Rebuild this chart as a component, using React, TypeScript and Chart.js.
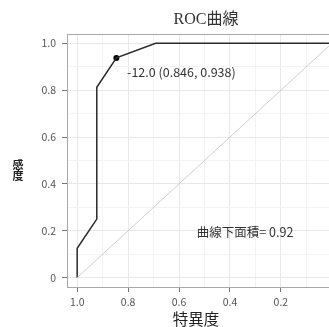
import React, { useEffect, useRef } from "react";
import { Chart, registerables } from "chart.js";

Chart.register(...registerables);

// ---- data ----
const SPECIFICITY = [1.0, 1.0, 0.923, 0.923, 0.846, 0.692, 0.0];
const SENSITIVITY = [0.0, 0.125, 0.25, 0.8125, 0.938, 1.0, 1.0];
const DIAG_X = [1.0, 0.0];
const DIAG_Y = [0.0, 1.0];
const BEST_X = [0.846];
const BEST_Y = [0.938];
const BEST_LABEL = "-12.0 (0.846, 0.938)";
const BEST_LABEL_POS = [0.804, 0.876];
const AUC_LABEL = "曲線下面積= 0.92";
const AUC_LABEL_POS = [0.53, 0.195];
const TITLE = "ROC曲線";
const X_TITLE = "特異度";
const Y_TITLE = ["感", "度"];
const TICK_VALUES = [1.0, 0.9, 0.8, 0.7, 0.6, 0.5, 0.4, 0.3, 0.2, 0.1, 0.0];
const TICK_LABELS = ["1.0", "", "0.8", "", "0.6", "", "0.4", "", "0.2", "", "0"];

const FONT = '"Noto Sans CJK JP", "Noto Sans", sans-serif';

const labelFor = (v: number) => {
  const i = TICK_VALUES.findIndex((t) => Math.abs(t - v) < 1e-6);
  return i >= 0 ? TICK_LABELS[i] : "";
};
const isMajor = (v: number) => labelFor(v) !== "";

const textPlugin = {
  id: "textPlugin",
  beforeDatasetsDraw(chart: any) {
    const { ctx, chartArea } = chart;
    ctx.save();
    ctx.strokeStyle = "#a8a8a8";
    ctx.lineWidth = 1;
    ctx.strokeRect(chartArea.left + 0.5, chartArea.top + 0.5, chartArea.right - chartArea.left, chartArea.bottom - chartArea.top);
    ctx.restore();
  },
  afterDraw(chart: any) {
    const { ctx, scales } = chart;
    const xs = scales.x;
    const ys = scales.y;
    ctx.save();
    ctx.textBaseline = "middle";
    // title
    ctx.fillStyle = "#333";
    ctx.textAlign = "center";
    ctx.font = '16px "Liberation Serif", "Noto Sans CJK JP", serif';
    ctx.fillText(TITLE, 206, 20);
    // x title
    ctx.font = "15.5px " + FONT;
    ctx.fillStyle = "#222";
    ctx.fillText(X_TITLE, 196, 319);
    // y title stacked
    ctx.font = "bold 11px " + FONT;
    ctx.fillText(Y_TITLE[0], 18, 165);
    ctx.fillText(Y_TITLE[1], 18, 176);
    // annotations
    ctx.textAlign = "left";
    ctx.fillStyle = "#333";
    ctx.font = "12.5px " + FONT;
    ctx.fillText(BEST_LABEL, xs.getPixelForValue(BEST_LABEL_POS[0]), ys.getPixelForValue(BEST_LABEL_POS[1]));
    ctx.font = "12.5px " + FONT;
    ctx.fillText(AUC_LABEL, xs.getPixelForValue(AUC_LABEL_POS[0]), ys.getPixelForValue(AUC_LABEL_POS[1]));
    ctx.restore();
  },
};

const axisCommon = (isX: boolean) => ({
  type: "linear" as const,
  min: -0.04,
  max: 1.04,
  reverse: isX,
  afterBuildTicks: (scale: any) => {
    scale.ticks = TICK_VALUES.map((v) => ({ value: v }));
  },
  afterFit: (scale: any) => {
    if (isX) scale.height = 40;
    else scale.width = 67;
  },
  border: { display: false },
  grid: {
    color: (c: any) => (c.tick && isMajor(c.tick.value) ? "#e8e8e8" : "#f3f3f3"),
    lineWidth: 1,
    tickColor: (c: any) => (c.tick && isMajor(c.tick.value) ? "#777" : "rgba(0,0,0,0)"),
    tickLength: 5,
    drawTicks: true,
  },
  ticks: {
    autoSkip: false,
    maxRotation: 0,
    padding: isX ? 4 : 6,
    color: "#555",
    font: { family: FONT, size: 10.5 },
    callback: (v: any) => labelFor(Number(v)),
  },
});

export default function App() {
  const ref = useRef<HTMLCanvasElement>(null);
  useEffect(() => {
    document.body.style.margin = "0";
    document.body.style.overflow = "hidden";
    const chart = new Chart(ref.current!, {
      type: "scatter",
      data: {
        datasets: [
          {
            data: DIAG_X.map((x, i) => ({ x, y: DIAG_Y[i] })),
            showLine: true,
            borderColor: "#cfcfcf",
            borderWidth: 1,
            pointRadius: 0,
          },
          {
            data: SPECIFICITY.map((x, i) => ({ x, y: SENSITIVITY[i] })),
            showLine: true,
            borderColor: "#2a2a2a",
            borderWidth: 1.5,
            pointRadius: 0,
          },
          {
            data: BEST_X.map((x, i) => ({ x, y: BEST_Y[i] })),
            pointRadius: 3,
            backgroundColor: "#000",
            borderColor: "#000",
            borderWidth: 0,
          },
        ],
      },
      options: {
        animation: false,
        responsive: false,
        layout: { padding: { left: 0, right: 8, top: 34, bottom: 0 } },
        plugins: { legend: { display: false }, tooltip: { enabled: false }, title: { display: false } },
        scales: {
          x: axisCommon(true),
          y: axisCommon(false),
        },
      },
      plugins: [textPlugin],
    });
    return () => chart.destroy();
  }, []);
  return (
    <div style={{ position: "fixed", left: 0, top: 0, width: 350, height: 327, background: "#fff" }}>
      <canvas ref={ref} width={350} height={327} />
    </div>
  );
}
